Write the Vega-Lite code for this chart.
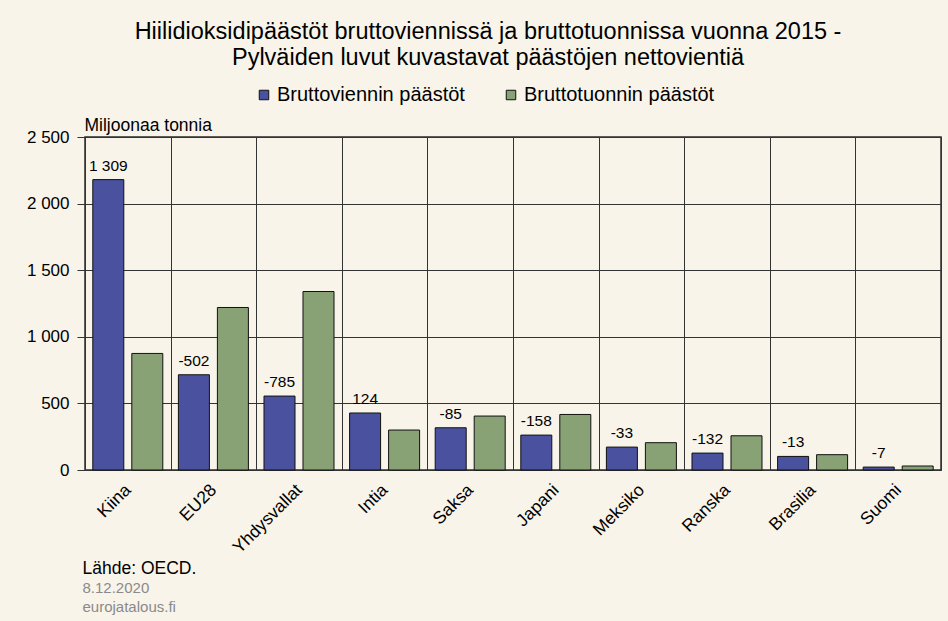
{
  "$schema": "https://vega.github.io/schema/vega-lite/v6.json",
  "width": 856,
  "height": 333,
  "autosize": {"type": "none"},
  "padding": {"left": 85, "top": 137, "right": 7, "bottom": 151},
  "background": "#F8F4EA",
  "config": {
    "font": "Liberation Sans",
    "locale": {"number": {"decimal": ",", "thousands": " ", "grouping": [3], "currency": ["", " €"], "minus": "-"}},
    "view": {"stroke": "#2b2b2b", "strokeWidth": 1.5},
    "axis": {"labelFont": "Liberation Sans", "titleFont": "Liberation Sans", "labelColor": "#000000", "titleColor": "#000000", "titleFontWeight": "normal"}
  },
  "title": {
    "text": ["Hiilidioksidipäästöt bruttoviennissä ja bruttotuonnissa vuonna 2015 -", "Pylväiden luvut kuvastavat päästöjen nettovientiä"],
    "fontSize": 23.5,
    "fontWeight": "normal",
    "font": "Liberation Sans",
    "color": "#000000",
    "anchor": "middle",
    "frame": "group",
    "dx": -25,
    "lineHeight": 26,
    "offset": 16
  },
  "data": {
    "values": [
      {"maa": "Kiina", "sarja": "Bruttoviennin päästöt", "arvo": 2180, "netto": 1309},
      {"maa": "Kiina", "sarja": "Bruttotuonnin päästöt", "arvo": 875},
      {"maa": "EU28", "sarja": "Bruttoviennin päästöt", "arvo": 715, "netto": -502},
      {"maa": "EU28", "sarja": "Bruttotuonnin päästöt", "arvo": 1220},
      {"maa": "Yhdysvallat", "sarja": "Bruttoviennin päästöt", "arvo": 555, "netto": -785},
      {"maa": "Yhdysvallat", "sarja": "Bruttotuonnin päästöt", "arvo": 1340},
      {"maa": "Intia", "sarja": "Bruttoviennin päästöt", "arvo": 428, "netto": 124},
      {"maa": "Intia", "sarja": "Bruttotuonnin päästöt", "arvo": 300},
      {"maa": "Saksa", "sarja": "Bruttoviennin päästöt", "arvo": 317, "netto": -85},
      {"maa": "Saksa", "sarja": "Bruttotuonnin päästöt", "arvo": 405},
      {"maa": "Japani", "sarja": "Bruttoviennin päästöt", "arvo": 262, "netto": -158},
      {"maa": "Japani", "sarja": "Bruttotuonnin päästöt", "arvo": 417},
      {"maa": "Meksiko", "sarja": "Bruttoviennin päästöt", "arvo": 172, "netto": -33},
      {"maa": "Meksiko", "sarja": "Bruttotuonnin päästöt", "arvo": 205},
      {"maa": "Ranska", "sarja": "Bruttoviennin päästöt", "arvo": 127, "netto": -132},
      {"maa": "Ranska", "sarja": "Bruttotuonnin päästöt", "arvo": 257},
      {"maa": "Brasilia", "sarja": "Bruttoviennin päästöt", "arvo": 102, "netto": -13},
      {"maa": "Brasilia", "sarja": "Bruttotuonnin päästöt", "arvo": 115},
      {"maa": "Suomi", "sarja": "Bruttoviennin päästöt", "arvo": 22, "netto": -7},
      {"maa": "Suomi", "sarja": "Bruttotuonnin päästöt", "arvo": 30}
    ]
  },
  "encoding": {
    "x": {
      "field": "maa", "type": "nominal", "sort": null,
      "scale": {"paddingInner": 0, "paddingOuter": 0},
      "axis": {
        "tickBand": "extent", "grid": true, "gridColor": "#333333", "gridWidth": 1, "gridOpacity": 1,
        "ticks": false, "domain": false,
        "labelAngle": -45, "labelAlign": "right", "labelBaseline": "middle", "labelFontSize": 17.5, "labelPadding": 17,
        "title": "Lähde: OECD.", "titleFontSize": 17.5, "titleAnchor": null, "titleAlign": "left", "titleBaseline": "alphabetic",
        "titleX": -3, "titleY": 103
      }
    },
    "xOffset": {"field": "sarja", "type": "nominal", "sort": ["Bruttoviennin päästöt", "Bruttotuonnin päästöt"], "scale": {"paddingInner": 0.205, "paddingOuter": 0.2}},
    "y": {
      "field": "arvo", "type": "quantitative",
      "scale": {"domain": [0, 2500], "nice": false},
      "axis": {
        "values": [0, 500, 1000, 1500, 2000, 2500], "format": ",d",
        "grid": true, "gridColor": "#333333", "gridWidth": 1, "gridOpacity": 1,
        "tickSize": 8, "tickColor": "#333333", "domain": false,
        "labelFontSize": 17, "labelPadding": 8,
        "title": "Miljoonaa tonnia", "titleFontSize": 17.5, "titleAngle": 0, "titleAlign": "left", "titleBaseline": "alphabetic",
        "titleX": -1, "titleY": -7, "titleAnchor": null
      }
    }
  },
  "layer": [
    {
      "mark": {"type": "bar", "stroke": "#111111", "strokeWidth": 1},
      "encoding": {
        "color": {
          "field": "sarja", "type": "nominal", "sort": ["Bruttoviennin päästöt", "Bruttotuonnin päästöt"],
          "scale": {"domain": ["Bruttoviennin päästöt", "Bruttotuonnin päästöt"], "range": ["#4A529F", "#88A276"]},
          "legend": {
            "title": null, "orient": "none", "direction": "horizontal", "legendX": 169, "legendY": -52,
            "symbolType": "square", "symbolSize": 90, "symbolStrokeColor": "#111111", "symbolStrokeWidth": 1,
            "labelFontSize": 20, "labelFont": "Liberation Sans", "labelColor": "#000000", "labelOffset": 3, "labelLimit": 0, "columnPadding": 36
          }
        }
      }
    },
    {
      "transform": [{"filter": "datum.sarja == 'Bruttoviennin päästöt'"}],
      "mark": {"type": "text", "baseline": "alphabetic", "dy": -9, "fontSize": 15.5, "font": "Liberation Sans", "color": "#000000"},
      "encoding": {
        "text": {"field": "netto", "type": "quantitative", "format": ",d"},
        "x": {
          "field": "maa", "type": "nominal", "sort": null,
          "axis": {
            "orient": "bottom",
            "labels": false, "ticks": false, "domain": false, "grid": false,
            "title": ["8.12.2020", "eurojatalous.fi"], "titleColor": "#8a8a8a", "titleFontSize": 15, "titleLineHeight": 19,
            "titleAnchor": null, "titleAlign": "left", "titleBaseline": "alphabetic", "titleX": -3, "titleY": 122
          }
        }
      }
    }
  ],
  "resolve": {"axis": {"x": "independent"}}
}
